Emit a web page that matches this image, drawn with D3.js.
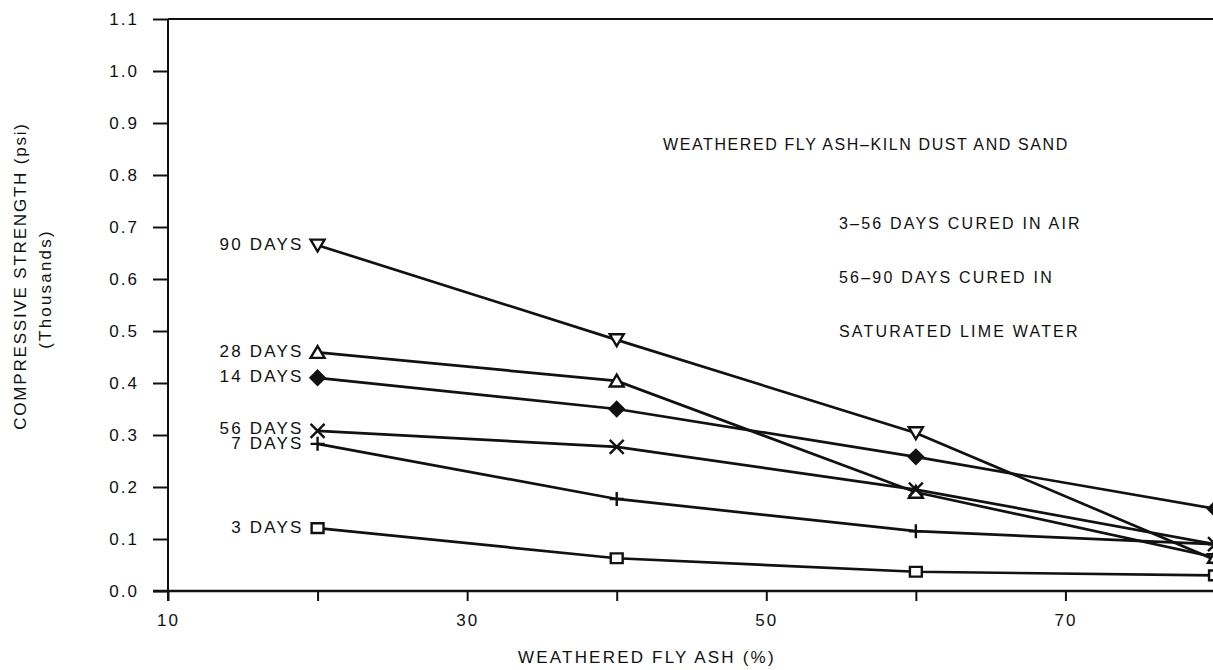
<!DOCTYPE html>
<html>
<head>
<meta charset="utf-8">
<script src="https://cdn.jsdelivr.net/npm/d3@7"></script>
<style>
  html, body { margin: 0; padding: 0; background: #fff; }
  svg { display: block; }
  text { font-family: "Liberation Sans", Arial, sans-serif; fill: #111; }
</style>
</head>
<body>
<svg id="chart" width="1213" height="670"></svg>
<script>
// ---- data ----
const ashPercent = [20, 40, 60, 80];
const seriesNames = ["90 DAYS", "28 DAYS", "14 DAYS", "56 DAYS", "7 DAYS", "3 DAYS"];
const days90 = [0.665, 0.483, 0.304, 0.060];
const days28 = [0.459, 0.404, 0.190, 0.065];
const days14 = [0.410, 0.350, 0.258, 0.158];
const days56 = [0.308, 0.277, 0.195, 0.090];
const days7  = [0.283, 0.177, 0.115, 0.090];
const days3  = [0.121, 0.063, 0.037, 0.030];
const markerTypes = ["triDown", "triUp", "diamond", "x", "plus", "square"];
const xTickValues = [10, 20, 30, 40, 50, 60, 70, 80];
const xTickLabels = ["10", "", "30", "", "50", "", "70", ""];
const yTickValues = [0, 0.1, 0.2, 0.3, 0.4, 0.5, 0.6, 0.7, 0.8, 0.9, 1.0, 1.1];
const yTickLabels = ["0.0", "0.1", "0.2", "0.3", "0.4", "0.5", "0.6", "0.7", "0.8", "0.9", "1.0", "1.1"];
const titleText = "WEATHERED FLY ASH\u2013KILN DUST AND SAND";
const noteLines = ["3\u201356 DAYS CURED IN AIR", "56\u201390 DAYS CURED IN", "SATURATED LIME WATER"];
const xTitle = "WEATHERED FLY ASH (%)";
const yTitle1 = "COMPRESSIVE STRENGTH (psi)";
const yTitle2 = "(Thousands)";

const allSeries = [days90, days28, days14, days56, days7, days3];

// ---- layout ----
const svg = d3.select("#chart");
const L = 168, R = 1215, T = 19, B = 591;
const x = d3.scaleLinear().domain([10, 80]).range([L, R]);
const y = d3.scaleLinear().domain([0, 1.1]).range([B, T]);
const ink = "#111";
const FONT = "Liberation Sans, Arial, sans-serif";

// frame top
svg.append("line").attr("x1", L).attr("x2", 1213).attr("y1", T).attr("y2", T)
  .attr("stroke", ink).attr("stroke-width", 2);

// y axis
const yAxis = d3.axisLeft(y).tickValues(yTickValues)
  .tickFormat((d, i) => yTickLabels[i]).tickSize(15).tickPadding(14);
const gy = svg.append("g").attr("transform", `translate(${L},0)`).call(yAxis);
gy.select(".domain").remove();
gy.selectAll(".tick line").attr("stroke", ink).attr("stroke-width", 2);
gy.selectAll(".tick text").attr("font-size", 17).attr("fill", ink)
  .style("letter-spacing", "2px").attr("font-family", FONT);
svg.append("line").attr("x1", L).attr("x2", L).attr("y1", T).attr("y2", B + 10)
  .attr("stroke", ink).attr("stroke-width", 2);

// x axis
const xAxis = d3.axisBottom(x).tickValues(xTickValues)
  .tickFormat((d, i) => xTickLabels[i]).tickSize(10).tickPadding(13);
const gx = svg.append("g").attr("transform", `translate(0,${B})`).call(xAxis);
gx.select(".domain").remove();
gx.selectAll(".tick line").attr("stroke", ink).attr("stroke-width", 2);
gx.selectAll(".tick text").attr("font-size", 17).attr("fill", ink)
  .style("letter-spacing", "2px").attr("font-family", FONT);
svg.append("line").attr("x1", L - 15).attr("x2", 1213).attr("y1", B).attr("y2", B)
  .attr("stroke", ink).attr("stroke-width", 2.5);

// axis titles
svg.append("text").attr("x", 518).attr("y", 659)
  .attr("dominant-baseline", "middle").attr("font-size", 17).style("letter-spacing", "2.2px").text(xTitle);
svg.append("text").attr("transform", "translate(22,276) rotate(-90)").attr("text-anchor", "middle")
  .attr("dominant-baseline", "middle").attr("font-size", 17).style("letter-spacing", "1.8px").text(yTitle1);
svg.append("text").attr("transform", "translate(47,289) rotate(-90)").attr("text-anchor", "middle")
  .attr("dominant-baseline", "middle").attr("font-size", 17).style("letter-spacing", "2.2px").text(yTitle2);

// lines
const line = d3.line().x((d, i) => x(ashPercent[i])).y(d => y(d));
const plot = svg.append("g");
allSeries.forEach((vals) => {
  plot.append("path").datum(vals).attr("d", line)
    .attr("fill", "none").attr("stroke", ink).attr("stroke-width", 2.7);
});

// markers
function markerPath(type, s) {
  const h = s / 2;
  switch (type) {
    case "triDown": return `M${-h},${-h * 0.8}L${h},${-h * 0.8}L0,${h * 0.9}Z`;
    case "triUp": return `M${-h},${h * 0.8}L${h},${h * 0.8}L0,${-h * 0.9}Z`;
    case "diamond": return `M0,${-h}L${h},0L0,${h}L${-h},0Z`;
    case "x": return `M${-h},${-h}L${h},${h}M${-h},${h}L${h},${-h}`;
    case "plus": return `M${-h},0L${h},0M0,${-h}L0,${h}`;
    case "square": return `M${-h * 0.85},${-h * 0.7}H${h * 0.85}V${h * 0.7}H${-h * 0.85}Z`;
  }
}
allSeries.forEach((vals, si) => {
  const type = markerTypes[si];
  vals.forEach((v, i) => {
    plot.append("path")
      .attr("transform", `translate(${x(ashPercent[i])},${y(v)})`)
      .attr("d", markerPath(type, 14))
      .attr("fill", type === "diamond" ? ink : (type === "x" || type === "plus" ? "none" : "#fff"))
      .attr("stroke", ink).attr("stroke-width", 2.4);
  });
});

// series labels
const labelOffsetY = [0, 0, 0, -1, 1, 0];
allSeries.forEach((vals, si) => {
  svg.append("text").attr("x", x(ashPercent[0]) - 14).attr("y", y(vals[0]) + labelOffsetY[si])
    .attr("text-anchor", "end").attr("dominant-baseline", "middle")
    .attr("font-size", 17).style("letter-spacing", "2.2px").text(seriesNames[si]);
});

// annotations
svg.append("text").attr("x", 663).attr("y", 146).attr("dominant-baseline", "middle")
  .attr("font-size", 16).style("letter-spacing", "1.6px").text(titleText);
noteLines.forEach((t, i) => {
  svg.append("text").attr("x", 839).attr("y", 225 + i * 54).attr("dominant-baseline", "middle")
    .attr("font-size", 16).style("letter-spacing", "2.2px").text(t);
});
</script>
</body>
</html>
